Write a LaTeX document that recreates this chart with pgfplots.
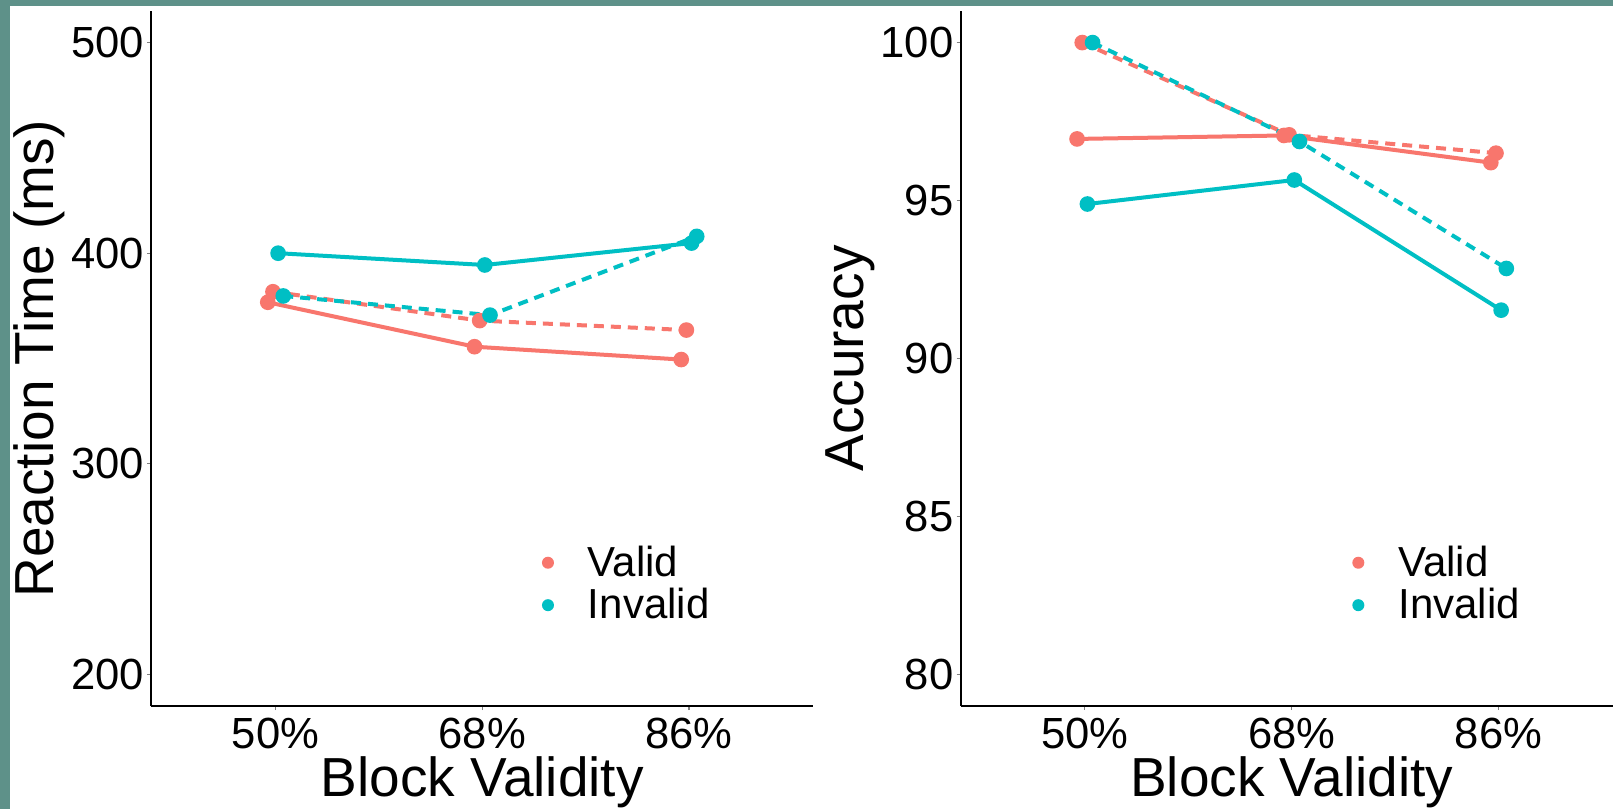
\documentclass[border=0pt]{standalone}
\usepackage{fontspec}
\setmainfont{Liberation Sans}
\usepackage{pgfplots}
\pgfplotsset{compat=1.18}
\definecolor{cvalid}{HTML}{F8766D}
\definecolor{cinvalid}{HTML}{00BFC4}
\definecolor{slide}{HTML}{5E9189}

\pgfplotsset{
 panel/.style={
  scale only axis, height=347.5pt,
  anchor=south west,
  xmin=0.4, xmax=3.6,
  axis x line*=bottom, axis y line*=left,
  axis line style={line width=1pt, black},
  xtick={1,2,3}, xticklabels={50\%,68\%,86\%},
  tick align=outside, major tick length=2pt,
  tick style={line width=0.6pt, gray},
  /pgf/number format/assume math mode=true,
  ticklabel style={font=\fontsize{21.8}{21.8}\selectfont, inner sep=0pt},
  yticklabel style={xshift=-1.5pt},
  xticklabel style={yshift=-4pt},
  xlabel={Block Validity},
  label style={font=\fontsize{27.5}{27.5}\selectfont},
  xlabel style={at={(axis description cs:0.5,-0.1295)}, anchor=base},
  ylabel style={at={(axis description cs:-0.1474,0.5)}, anchor=base},
  legend style={draw=none, fill=none, inner sep=0pt, outer sep=0pt,
    font=\fontsize{21}{21}\selectfont, row sep=4.5pt, nodes={inner sep=0pt}},
  legend cell align=left,
  legend image code/.code={\path[draw=none,fill=none] (-3pt,-3pt) rectangle (20pt,3pt); \fill[#1, draw=none] (0pt,0pt) circle (3pt);},
  every axis plot/.append style={line width=2pt, mark=*, mark size=2.9pt},
  clip=false,
 },
 dsh/.style={dash pattern=on 5pt off 3.5pt},
 vsol/.style={cvalid, mark options={solid, draw=none, fill=cvalid}},
 vdsh/.style={cvalid, dsh, mark options={solid, draw=none, fill=cvalid}},
 isol/.style={cinvalid, mark options={solid, draw=none, fill=cinvalid}},
 idsh/.style={cinvalid, dsh, mark options={solid, draw=none, fill=cinvalid}},
}

\begin{document}
\begin{tikzpicture}
\useasboundingbox (0,0) rectangle (806.5pt,404.5pt);
\fill[slide] (0,0) rectangle (806.5pt,404.5pt);
\fill[white] (5pt,0) rectangle (806.5pt,401.5pt);

\begin{axis}[panel, at={(75.75pt,51.5pt)}, width=330.75pt,
  ymin=185, ymax=515, ytick={200,300,400,500},
  ylabel={Reaction Time (ms)},
  legend style={at={(axis description cs:0.5903,0.1756)}, anchor=west}]
\addplot[vsol, forget plot] coordinates {(0.9625,376.7) (1.9625,355.6) (2.9625,349.5)};
\addplot[vdsh, forget plot] coordinates {(0.9875,381.7) (1.9875,368.0) (2.9875,363.5)};
\addplot[isol, forget plot] coordinates {(1.0125,400.0) (2.0125,394.4) (3.0125,404.8)};
\addplot[idsh, forget plot] coordinates {(1.0375,379.7) (2.0375,370.6) (3.0375,408.0)};
\addlegendimage{cvalid}
\addlegendentry{Valid}
\addlegendimage{cinvalid}
\addlegendentry{Invalid}
\end{axis}

\begin{axis}[panel, at={(480.35pt,51.5pt)}, width=331pt,
  ymin=79, ymax=101, ytick={80,85,90,95,100},
  ylabel={Accuracy},
  legend style={at={(axis description cs:0.5916,0.1756)}, anchor=west}]
\addplot[vsol, forget plot] coordinates {(0.9625,96.95) (1.9625,97.06) (2.9625,96.20)};
\addplot[vdsh, forget plot] coordinates {(0.9875,100.0) (1.9875,97.08) (2.9875,96.50)};
\addplot[isol, forget plot] coordinates {(1.0125,94.89) (2.0125,95.65) (3.0125,91.53)};
\addplot[idsh, forget plot] coordinates {(1.0375,100.0) (2.0375,96.87) (3.0375,92.85)};
\addlegendimage{cvalid}
\addlegendentry{Valid}
\addlegendimage{cinvalid}
\addlegendentry{Invalid}
\end{axis}
\end{tikzpicture}
\end{document}
